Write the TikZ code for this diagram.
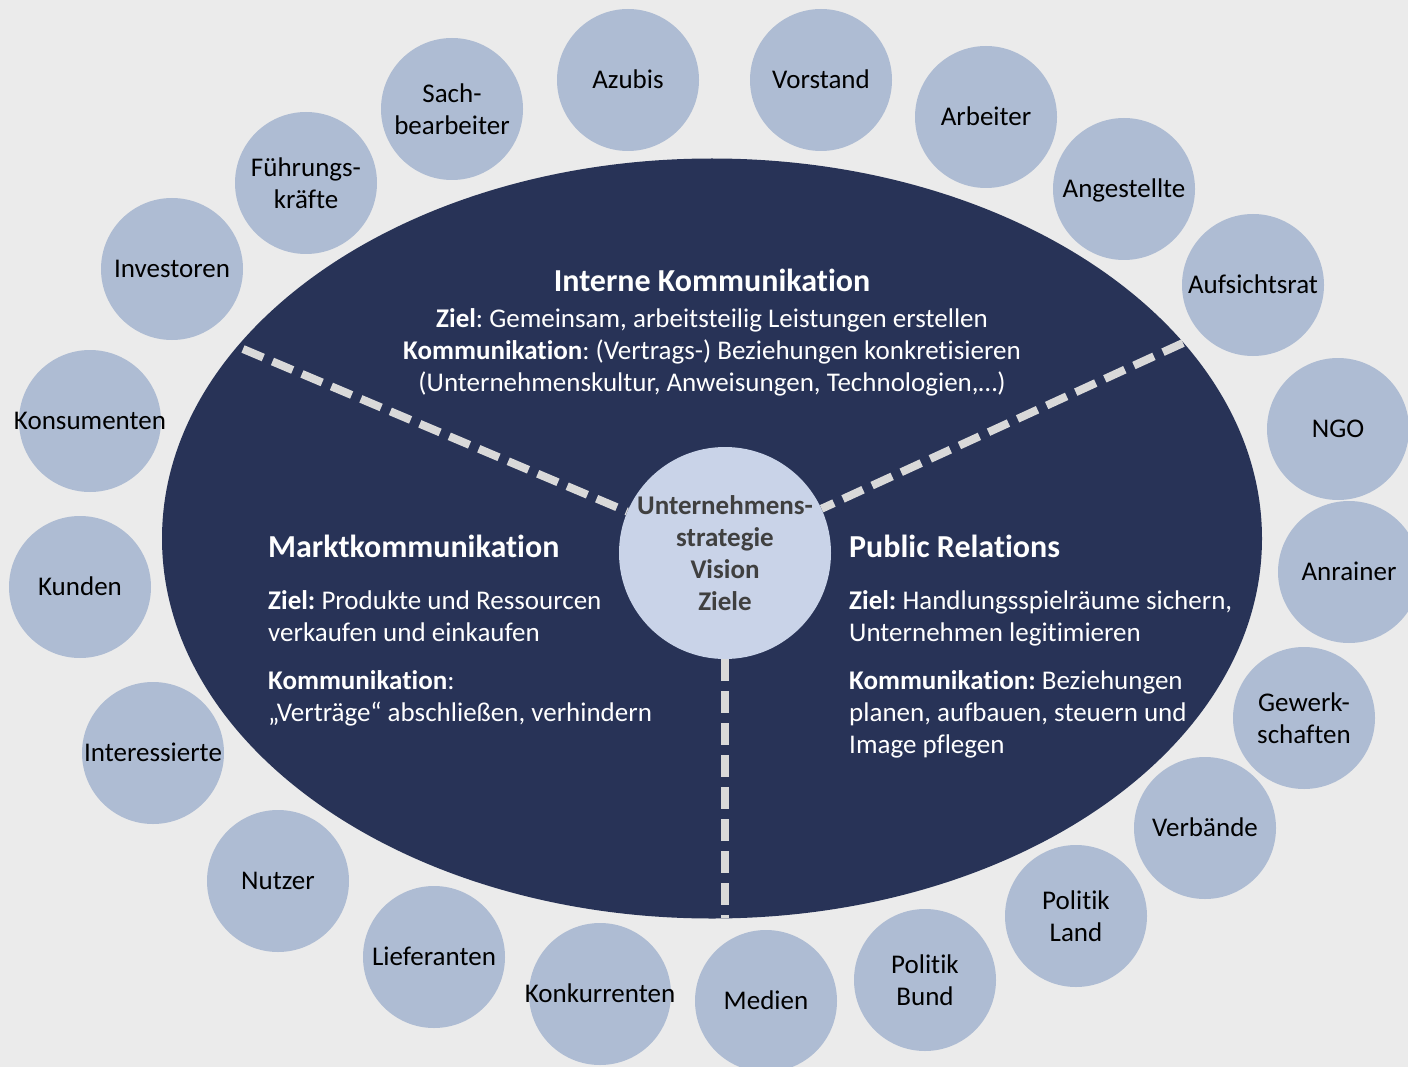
\documentclass[tikz,border=0pt]{standalone}
\usepackage{fontspec}
\setmainfont{Carlito}[Ligatures=NoCommon]
\usetikzlibrary{shapes.geometric}
\definecolor{bgc}{HTML}{EBEBEB}
\definecolor{navy}{HTML}{283357}
\definecolor{circ}{HTML}{AEBCD3}
\definecolor{corec}{HTML}{C9D3E8}
\definecolor{coretext}{HTML}{404040}
\definecolor{dashc}{HTML}{D9D9D9}
\frenchspacing
\begin{document}
\begin{tikzpicture}[x=1pt,y=-1pt,
  ring/.style={circle, fill=circ, minimum size=142pt, inner sep=-12pt, align=center,
    font=\fontsize{27}{32}\selectfont, text=black},
  oneline/.style={text height=16.5pt, text depth=0pt},
  bodytxt/.style={inner sep=0pt, text=white, font=\fontsize{27}{32}\selectfont},
  titletxt/.style={inner sep=0pt, text=white, font=\fontsize{32}{38}\selectfont\bfseries},
  divider/.style={draw=dashc, line width=8pt, dash pattern=on 22pt off 10pt}]
\useasboundingbox (0,0) rectangle (1408,1067);
\fill[bgc] (0,0) rectangle (1408,1067);
\clip (0,0) rectangle (1408,1067);

% main oval
\node[ellipse, fill=navy, minimum width=1100pt, minimum height=760pt, inner sep=0pt] (oval) at (712,538.5) {};

% centre
\node[circle, fill=corec, minimum size=212pt, inner sep=0pt, align=center, text=coretext,
  font=\fontsize{27}{32}\selectfont\bfseries] (core) at (725,553) {Unternehmens-\\strategie\\Vision\\Ziele};

\coordinate (dl) at (243,349);
\coordinate (dr) at (1183,343);
\coordinate (db) at (725,918.4);
\draw[divider] (dl) -- (core);
\draw[divider] (dr) -- (core);
\draw[divider] (core.south) -- (db);

% Interne Kommunikation
\node[titletxt, anchor=base] (it) at (712,292) {Interne Kommunikation};
\node[bodytxt, anchor=base] (i1) at (712,327) {\textbf{Ziel}: Gemeinsam, arbeitsteilig Leistungen erstellen};
\node[bodytxt, anchor=base] (i2) at (712,359) {\textbf{Kommunikation}: (Vertrags-) Beziehungen konkretisieren};
\node[bodytxt, anchor=base] (i3) at (712,391) {(Unternehmenskultur, Anweisungen, Technologien,…)};

% Marktkommunikation
\node[titletxt, anchor=base west] (mt) at (268,557.5) {Marktkommunikation};
\node[bodytxt, anchor=base west] (m1) at (268,609) {\textbf{Ziel:} Produkte und Ressourcen};
\node[bodytxt, anchor=base west] (m2) at (268,641) {verkaufen und einkaufen};
\node[bodytxt, anchor=base west] (m3) at (268,689) {\textbf{Kommunikation}:};
\node[bodytxt, anchor=base west] (m4) at (268,721) {„Verträge“ abschließen, verhindern};

% Public Relations
\node[titletxt, anchor=base west] (pt) at (849,557.5) {Public Relations};
\node[bodytxt, anchor=base west] (p1) at (849,609) {\textbf{Ziel:} Handlungsspielräume sichern,};
\node[bodytxt, anchor=base west] (p2) at (849,641) {Unternehmen legitimieren};
\node[bodytxt, anchor=base west] (p3) at (849,689) {\textbf{Kommunikation:} Beziehungen};
\node[bodytxt, anchor=base west] (p4) at (849,721) {planen, aufbauen, steuern und};
\node[bodytxt, anchor=base west] (p5) at (849,753) {Image pflegen};

% stakeholder circles
\node[ring, oneline] (azubis)   at (628,80)   {Azubis};
\node[ring, oneline] (vorstand) at (821,80)   {Vorstand};
\node[ring]          (sach)     at (452,109)  {Sach-\\bearbeiter};
\node[ring]          (fuehr)    at (306,183)  {Führungs-\\kräfte};
\node[ring, oneline] (invest)   at (172,269)  {Investoren};
\node[ring, oneline] (konsum)   at (90,421)   {Konsumenten};
\node[ring, oneline] (kunden)   at (80,587)   {Kunden};
\node[ring, oneline] (interess) at (153,753)  {Interessierte};
\node[ring, oneline] (nutzer)   at (278,881)  {Nutzer};
\node[ring, oneline] (liefer)   at (434,957)  {Lieferanten};
\node[ring, oneline] (konkur)   at (600,994)  {Konkurrenten};
\node[ring, oneline] (medien)   at (766,1001) {Medien};
\node[ring]          (bund)     at (925,980)  {Politik\\Bund};
\node[ring]          (land)     at (1076,916) {Politik\\Land};
\node[ring, oneline] (verb)     at (1205,828) {Verbände};
\node[ring]          (gewerk)   at (1304,718) {Gewerk-\\schaften};
\node[ring, oneline] (anrainer) at (1349,572) {Anrainer};
\node[ring, oneline] (ngo)      at (1338,429) {NGO};
\node[ring, oneline] (aufsicht) at (1253,285) {Aufsichtsrat};
\node[ring, oneline] (angest)   at (1124,189) {Angestellte};
\node[ring, oneline] (arbeiter) at (986,117)  {Arbeiter};
\end{tikzpicture}
\end{document}
